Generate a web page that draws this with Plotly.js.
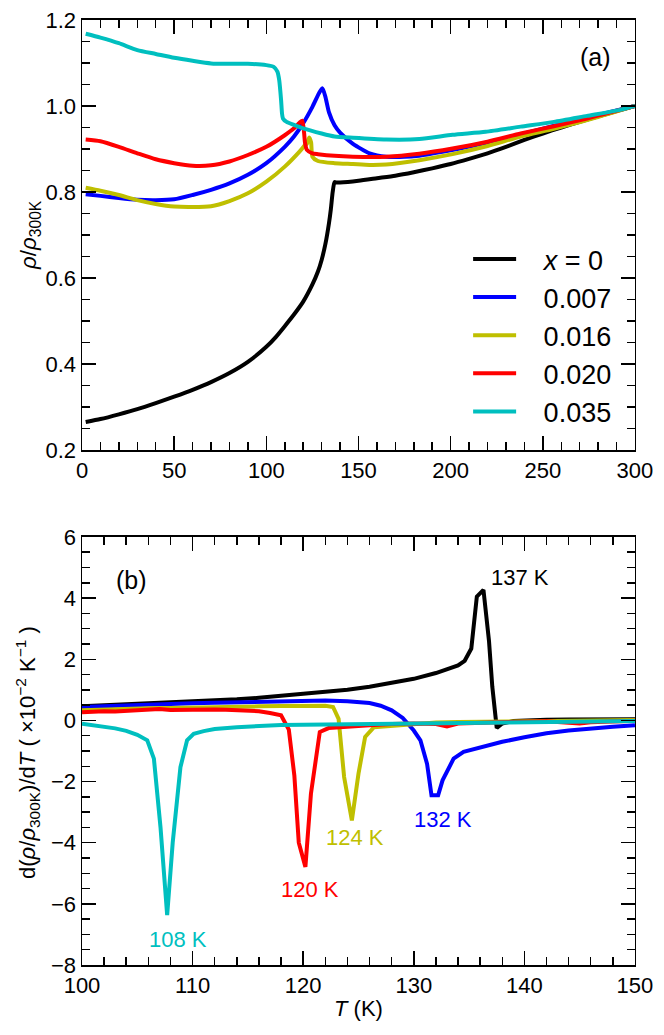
<!DOCTYPE html>
<html>
<head>
<meta charset="utf-8">
<script src="https://cdn.plot.ly/plotly-3.0.1.min.js"></script>
<style>
  html, body { margin: 0; padding: 0; background: #fff; }
  #chart { width: 664px; height: 1035px; }
</style>
</head>
<body>
<div id="chart"></div>
<script>
// ---- panel (a): rho / rho_300K vs T ----
const legendNames = ['<i>x</i> = 0', '0.007', '0.016', '0.020', '0.035'];
const lineColors = ['#000000', '#0000ff', '#bfbf00', '#ff0000', '#00bfbf'];

const tempA_x0 = [2, 10, 20, 30, 40, 50, 60, 70, 80, 90, 100, 105, 110, 115, 120, 125, 128, 130, 132, 134, 135, 136, 137, 138, 140, 150, 160, 170, 180, 190, 200, 210, 220, 230, 240, 250, 260, 270, 280, 290, 300];
const rhoA_x0 = [0.265, 0.272, 0.283, 0.295, 0.309, 0.324, 0.340, 0.358, 0.379, 0.405, 0.440, 0.462, 0.488, 0.515, 0.545, 0.585, 0.615, 0.642, 0.678, 0.728, 0.760, 0.800, 0.823, 0.822, 0.822, 0.826, 0.832, 0.838, 0.846, 0.855, 0.865, 0.877, 0.890, 0.905, 0.921, 0.936, 0.950, 0.963, 0.976, 0.988, 1.0];

const tempA_x007 = [2, 10, 20, 30, 40, 50, 60, 70, 80, 90, 100, 110, 115, 120, 125, 129, 130.5, 132, 134, 137, 140, 147, 156, 165, 180, 200, 220, 240, 260, 280, 300];
const rhoA_x007 = [0.795, 0.791, 0.786, 0.782, 0.781, 0.783, 0.793, 0.805, 0.820, 0.840, 0.867, 0.905, 0.929, 0.960, 0.998, 1.033, 1.041, 1.022, 0.985, 0.955, 0.938, 0.912, 0.890, 0.882, 0.883, 0.897, 0.915, 0.936, 0.958, 0.979, 1.0];

const tempA_x016 = [2, 10, 20, 30, 40, 50, 60, 70, 80, 90, 100, 110, 118, 120, 121, 122, 123.3, 124.3, 125, 128, 137, 147, 156, 165, 183, 201, 220, 238, 256, 274, 300];
const rhoA_x016 = [0.810, 0.803, 0.793, 0.781, 0.772, 0.766, 0.765, 0.767, 0.779, 0.797, 0.824, 0.859, 0.894, 0.904, 0.910, 0.912, 0.927, 0.915, 0.882, 0.872, 0.867, 0.865, 0.863, 0.864, 0.874, 0.888, 0.907, 0.929, 0.947, 0.967, 1.0];

const tempA_x020 = [2, 10, 20, 30, 40, 50, 60, 70, 80, 90, 100, 110, 115, 118, 119.5, 120.5, 121, 122, 125, 128, 137, 147, 165, 183, 201, 220, 238, 256, 274, 300];
const rhoA_x020 = [0.922, 0.918, 0.905, 0.890, 0.876, 0.867, 0.861, 0.862, 0.871, 0.886, 0.905, 0.932, 0.948, 0.961, 0.966, 0.937, 0.914, 0.898, 0.890, 0.888, 0.884, 0.882, 0.882, 0.889, 0.901, 0.917, 0.936, 0.953, 0.971, 1.0];

const tempA_x035 = [2, 10, 20, 30, 40, 50, 60, 70, 80, 90, 100, 104, 106, 107, 108, 108.5, 109, 111, 115, 120, 130, 137, 147, 165, 183, 201, 219, 238, 256, 274, 292, 300];
const rhoA_x035 = [1.168, 1.159, 1.146, 1.130, 1.121, 1.112, 1.105, 1.099, 1.098, 1.098, 1.095, 1.091, 1.080, 1.060, 1.014, 0.983, 0.971, 0.963, 0.956, 0.948, 0.936, 0.929, 0.926, 0.922, 0.923, 0.933, 0.940, 0.952, 0.963, 0.977, 0.991, 1.0];

// ---- panel (b): d(rho/rho_300K)/dT (x10^-2 K^-1) ----
const tempB_x0 = [100, 102, 104, 106, 108, 110, 112, 114, 116, 118, 120, 122, 124, 126, 128, 130, 132, 133, 134, 134.6, 135.2, 135.7, 136.3, 136.8, 137.1, 137.5, 138, 139, 140, 142, 144, 146, 148, 150];
const dB_x0 = [0.46, 0.49, 0.52, 0.55, 0.58, 0.61, 0.65, 0.69, 0.74, 0.80, 0.86, 0.92, 1.00, 1.10, 1.22, 1.36, 1.55, 1.66, 1.80, 1.95, 2.35, 4.05, 4.27, 2.60, 1.10, -0.25, -0.10, -0.02, 0.00, 0.02, 0.03, 0.03, 0.04, 0.04];

const tempB_x007 = [100, 102, 104, 106, 108, 110, 112, 114, 116, 118, 120, 122, 124, 125, 126, 127, 128, 129, 130, 130.6, 131.2, 131.6, 132.2, 132.6, 133.6, 134.5, 136, 138, 140, 142, 144, 146, 148, 150];
const dB_x007 = [0.44, 0.47, 0.50, 0.52, 0.54, 0.56, 0.58, 0.60, 0.62, 0.63, 0.64, 0.65, 0.63, 0.61, 0.57, 0.48, 0.33, 0.08, -0.33, -0.65, -1.42, -2.45, -2.45, -1.96, -1.25, -1.03, -0.88, -0.70, -0.55, -0.42, -0.33, -0.26, -0.21, -0.16];

const tempB_x016 = [100, 102, 104, 106, 108, 110, 112, 114, 116, 118, 120, 121, 122, 122.7, 123.2, 123.7, 124.4, 125, 125.6, 126.4, 128, 130, 132, 134, 136, 138, 140, 142, 145, 148, 150];
const dB_x016 = [0.33, 0.36, 0.38, 0.40, 0.41, 0.43, 0.44, 0.45, 0.46, 0.47, 0.48, 0.50, 0.48, 0.44, 0.05, -1.85, -3.27, -1.74, -0.54, -0.22, -0.18, -0.10, -0.07, -0.05, -0.04, -0.03, -0.02, -0.01, 0.00, 0.01, 0.01];

const tempB_x020 = [100, 101, 102, 103, 104, 105, 106, 107, 108, 109, 110, 111, 112, 113, 114, 115, 116, 117, 118, 118.7, 119.2, 119.6, 120.2, 120.7, 121.1, 121.5, 122.3, 124, 126, 128, 130, 132, 133, 134, 136, 138, 140, 142, 144, 145, 146, 148, 150];
const dB_x020 = [0.27, 0.29, 0.30, 0.29, 0.31, 0.31, 0.33, 0.37, 0.34, 0.35, 0.33, 0.36, 0.36, 0.35, 0.34, 0.33, 0.30, 0.24, 0.17, -0.30, -1.80, -4.00, -4.79, -2.40, -1.31, -0.38, -0.25, -0.20, -0.16, -0.12, -0.10, -0.12, -0.20, -0.10, -0.07, -0.05, -0.04, -0.03, -0.06, -0.10, -0.06, -0.02, -0.01];

const tempB_x035 = [100, 101, 102, 103, 104, 105, 105.9, 106.5, 107.1, 107.7, 108.2, 108.9, 109.5, 110.1, 111, 112, 114, 116, 118, 120, 125, 130, 135, 140, 145, 150];
const dB_x035 = [-0.11, -0.15, -0.20, -0.26, -0.34, -0.47, -0.65, -1.25, -3.50, -6.37, -4.00, -1.53, -0.65, -0.44, -0.35, -0.28, -0.22, -0.17, -0.15, -0.14, -0.12, -0.10, -0.07, -0.05, -0.03, -0.02];

// transition temperatures labelled in (b)
const tcLabels = ['137 K', '132 K', '124 K', '120 K', '108 K'];
const tcLabelT = [139.6, 132.6, 124.7, 120.6, 108.7];
const tcLabelD = [4.66, -3.25, -3.84, -5.53, -7.17];
const tcColors = ['#000000', '#0000ff', '#bfbf00', '#ff0000', '#00bfbf'];

const FONT = 'Liberation Sans, Arial, Helvetica, sans-serif';
const NBSP = '\u00a0\u00a0\u00a0'; // pushes legend text away from the swatch

const tempsA = [tempA_x0, tempA_x007, tempA_x016, tempA_x020, tempA_x035];
const valsA = [rhoA_x0, rhoA_x007, rhoA_x016, rhoA_x020, rhoA_x035];
const tempsB = [tempB_x0, tempB_x007, tempB_x016, tempB_x020, tempB_x035];
const valsB = [dB_x0, dB_x007, dB_x016, dB_x020, dB_x035];

const traces = [];
tempsA.forEach((t, i) => {
    traces.push({
        x: t, y: valsA[i], xaxis: 'x', yaxis: 'y', type: 'scatter', mode: 'lines',
        name: NBSP + legendNames[i],
        line: { color: lineColors[i], width: 4, shape: 'spline', smoothing: 0.6 }
    });
});
tempsB.forEach((t, i) => {
    traces.push({
        x: t, y: valsB[i], xaxis: 'x2', yaxis: 'y2', type: 'scatter', mode: 'lines',
        showlegend: false,
        line: { color: lineColors[i], width: 4 }
    });
});

function axisStyle(extra) {
    return Object.assign({
        showline: true, linecolor: '#000', linewidth: 1.5, mirror: 'ticks',
        ticks: 'inside', ticklen: 14, tickwidth: 1.5, tickcolor: '#000',
        showgrid: false, zeroline: false,
        tickfont: { family: FONT, size: 22, color: '#000' }
    }, extra);
}

// paper-anchored text helper (explicit anchors, 'auto' shifts them)
function paperText(px, py, text, size, angle) {
    return {
        xref: 'paper', yref: 'paper', x: px / 664, y: 1 - py / 1035,
        xanchor: 'center', yanchor: 'middle', textangle: angle || 0,
        text: text, showarrow: false, font: { family: FONT, size: size, color: '#000' }
    };
}

const layout = {
    width: 664, height: 1035,
    margin: { l: 0, r: 0, t: 0, b: 0 },
    paper_bgcolor: '#fff', plot_bgcolor: '#fff',
    font: { family: FONT, color: '#000' },
    showlegend: true,
    xaxis: axisStyle({
        domain: [0.1235, 0.9563], anchor: 'y', range: [0, 300], dtick: 50, tick0: 0,
        minor: { ticks: 'inside', ticklen: 8, dtick: 10, tickwidth: 1.5, tickcolor: '#000' }
    }),
    yaxis: axisStyle({
        domain: [0.5652, 0.9807], anchor: 'x', range: [0.2, 1.2], dtick: 0.2, tick0: 0,
        tickformat: '.1f',
        minor: { ticks: 'inside', ticklen: 8, dtick: 0.05, tickwidth: 1.5, tickcolor: '#000' }
    }),
    xaxis2: axisStyle({
        domain: [0.1235, 0.9563], anchor: 'y2', range: [100, 150], dtick: 10, tick0: 100,
        minor: { ticks: 'inside', ticklen: 8, dtick: 2, tickwidth: 1.5, tickcolor: '#000' }
    }),
    yaxis2: axisStyle({
        domain: [0.0676, 0.4812], anchor: 'x2', range: [-8, 6], dtick: 2, tick0: 0,
        minor: { ticks: 'inside', ticklen: 8, dtick: 0.5, tickwidth: 1.5, tickcolor: '#000' }
    }),
    legend: {
        x: 0.705, y: 0.773, xanchor: 'left', yanchor: 'top',
        bgcolor: 'rgba(0,0,0,0)', borderwidth: 0,
        itemwidth: 43, traceorder: 'normal',
        font: { family: FONT, size: 27, color: '#000' }
    },
    annotations: [
        paperText(595, 57, '(a)', 25),
        paperText(131, 580, '(b)', 25),
        paperText(30, 235, '<i>ρ</i>/<i>ρ</i><sub>300K</sub>', 22, -90),
        paperText(28, 753, 'd(<i>ρ</i>/<i>ρ</i><sub>300K</sub>)/d<i>T</i> ( ×10<sup>−2</sup> K<sup>−1</sup> )', 20, -90),
        paperText(358, 1008, '<i>T</i> (K)', 22)
    ]
};

tcLabels.forEach((txt, i) => {
    layout.annotations.push({
        xref: 'x2', yref: 'y2', x: tcLabelT[i], y: tcLabelD[i], text: txt, showarrow: false,
        xanchor: 'center', yanchor: 'middle',
        font: { family: FONT, size: 22, color: tcColors[i] }
    });
});

// the two rotated axis titles are fitted to the length they have in the figure
const titleFits = [{ idx: 2, len: 70 }, { idx: 3, len: 253 }];

Plotly.newPlot('chart', traces, layout, { displayModeBar: false, staticPlot: true }).then(gd => {
    const update = {};
    titleFits.forEach(f => {
        const node = gd.querySelector('.annotation[data-index="' + f.idx + '"] text');
        const w = node ? node.getBBox().width : 0;
        if (w > 0) {
            update['annotations[' + f.idx + '].font.size'] = layout.annotations[f.idx].font.size * f.len / w;
        }
    });
    console.log('title fit', JSON.stringify(update));
    return Plotly.relayout(gd, update);
});
</script>
</body>
</html>
